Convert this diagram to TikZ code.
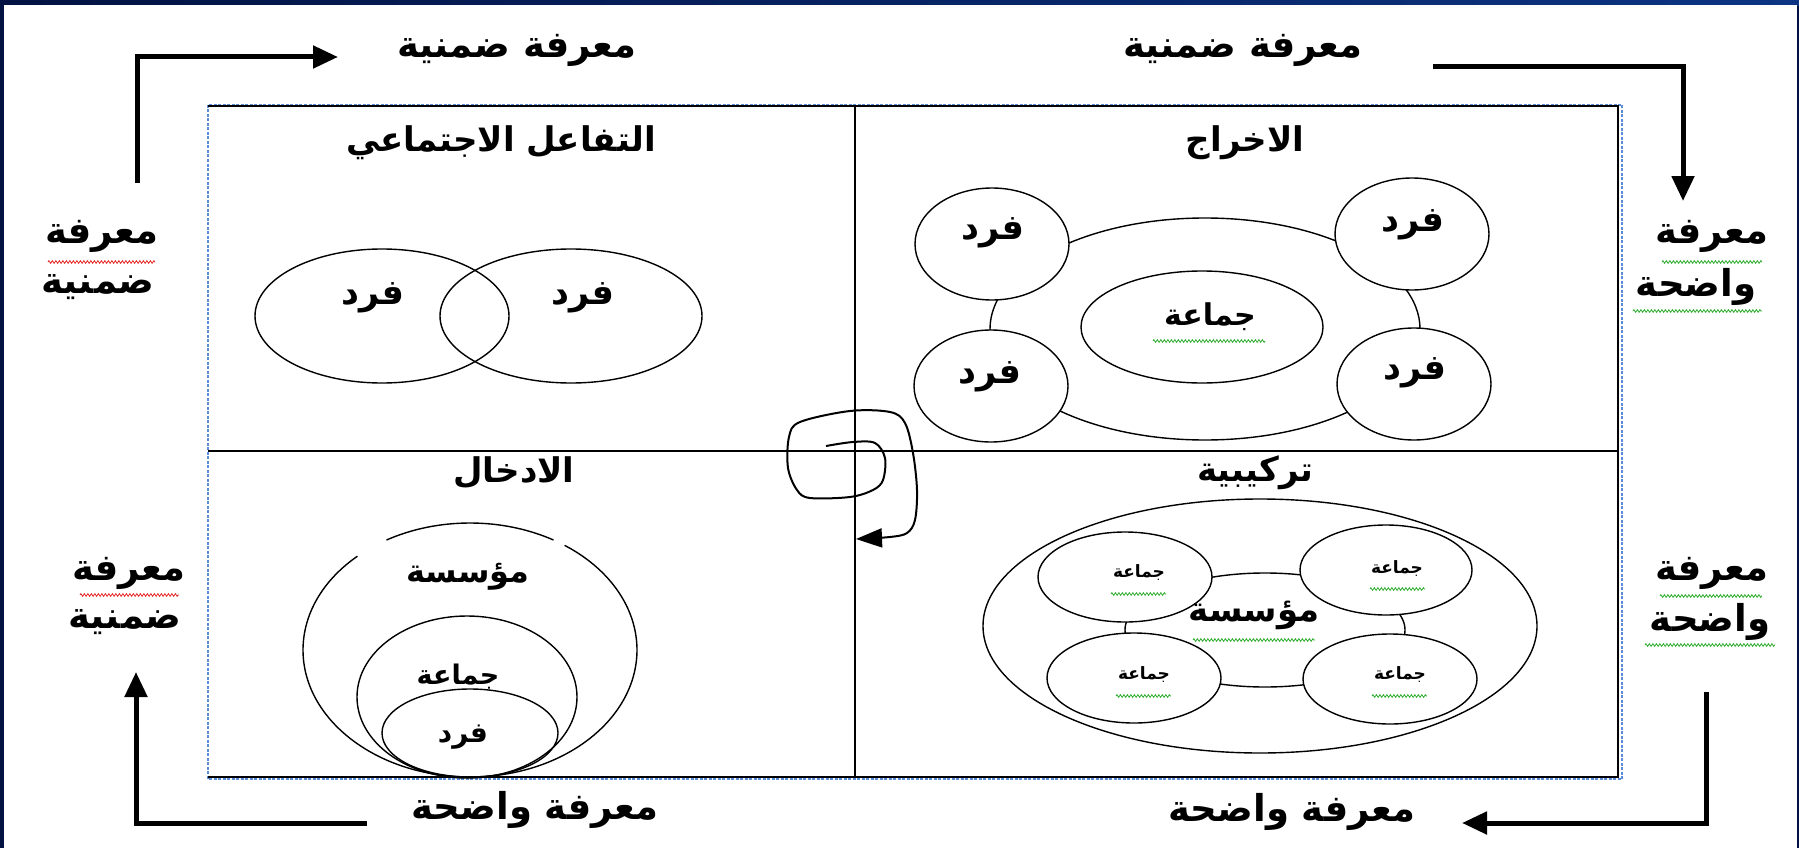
\documentclass[tikz,border=0pt]{standalone}
\usepackage{fontspec}
\usetikzlibrary{shapes.geometric,arrows.meta,decorations.pathmorphing}
\newfontfamily\ar[Script=Arabic]{DejaVu Sans}
\TeXXeTstate=1
\definecolor{navy}{RGB}{2,18,66}
\definecolor{navyb}{RGB}{12,52,130}
\definecolor{boxblue}{RGB}{90,140,215}
\definecolor{sqgreen}{RGB}{40,170,40}
\definecolor{sqred}{RGB}{230,30,30}
\newcommand\AR[1]{\beginR #1\endR}
\begin{document}
\begin{tikzpicture}[x=1pt,y=1pt,
  ell/.style={draw, ellipse, inner sep=0pt, line width=1.4pt},
  wf/.style={fill=white},
  ttl/.style={font=\ar\bfseries\fontsize{34}{38}\selectfont, inner sep=0pt},
  lbl/.style={font=\ar\bfseries\fontsize{37}{40}\selectfont, inner sep=0pt},
  fr/.style={font=\ar\bfseries\fontsize{35}{38}\selectfont, inner sep=0pt},
  mid/.style={font=\ar\bfseries\fontsize{30}{34}\selectfont, inner sep=0pt},
  sm/.style={font=\ar\bfseries\fontsize{17}{20}\selectfont, inner sep=0pt},
  bigarrow/.style={line width=5pt, -{Triangle[length=25pt,width=22pt]}},
  sqg/.style={sqgreen, line width=0.8pt, decorate, decoration={zigzag, amplitude=1.3pt, segment length=3.5pt}},
  sqr/.style={sqred, line width=0.8pt, decorate, decoration={zigzag, amplitude=1.3pt, segment length=3.5pt}},
  rule/.style={line width=1.6pt}
]
\useasboundingbox (0,0) rectangle (1799,-848);
% frame
\fill[navy] (0,0) rectangle (1799,-848);
\shade[left color=navy, right color=navyb] (0,0) rectangle (1799,-6);
\fill[white] (4,-5) rectangle (1797,-848);

% main box
\draw[boxblue, line width=1.2pt, dashed, dash pattern=on 3pt off 1.5pt] (208,-105) rectangle (1622,-779);
\draw[rule] (208,-106) -- (1618,-106) -- (1618,-777) -- (208,-777);
\draw[rule] (855,-106) -- (855,-777);
\draw[rule] (208,-451) -- (1618,-451);

% titles
\node[ttl] (tSoc) at (501,-143) {\AR{التفاعل الاجتماعي}};
\node[ttl] (tExt) at (1245,-143) {\AR{الاخراج}};
\node[ttl] (tInt) at (514,-473) {\AR{الادخال}};
\node[ttl] (tCom) at (1255,-473) {\AR{تركيبية}};

% top-left quadrant: two overlapping individuals
\node[ell, minimum width=254pt, minimum height=134pt] (eL) at (382,-316) {};
\node[ell, minimum width=262pt, minimum height=134pt] (eR) at (571,-316) {};
\node[fr] (fL) at (373,-298) {\AR{فرد}};
\node[fr] (fR) at (583,-298) {\AR{فرد}};

% top-right quadrant
\node[ell, minimum width=430pt, minimum height=222pt] (ring1) at (1205,-329) {};
\node[ell, wf, minimum width=242pt, minimum height=112pt] (grp1) at (1202,-327) {};
\node[ell, wf, minimum width=154pt, minimum height=112pt] (c1) at (992,-244) {};
\node[ell, wf, minimum width=154pt, minimum height=112pt] (c2) at (991,-386) {};
\node[ell, wf, minimum width=154pt, minimum height=112pt] (c3) at (1412,-234) {};
\node[ell, wf, minimum width=154pt, minimum height=112pt] (c4) at (1414,-384) {};
\node[fr] (fc1) at (993,-233) {\AR{فرد}};
\node[fr] (fc2) at (990,-377) {\AR{فرد}};
\node[fr] (fc3) at (1413,-225) {\AR{فرد}};
\node[fr] (fc4) at (1415,-373) {\AR{فرد}};
\node[mid] (g1t) at (1210,-317) {\AR{جماعة}};
\draw[sqg] (1153,-341) -- (1265,-341);

% bottom-right quadrant
\node[ell, minimum width=554pt, minimum height=254pt] (org2) at (1260,-626) {};
\node[ell, minimum width=280pt, minimum height=114pt] (ring2) at (1265,-630) {};
\node[ell, wf, minimum width=174pt, minimum height=90pt] (s1) at (1125,-577) {};
\node[ell, wf, minimum width=172pt, minimum height=90pt] (s2) at (1386,-570) {};
\node[ell, wf, minimum width=174pt, minimum height=90pt] (s3) at (1134,-678) {};
\node[ell, wf, minimum width=174pt, minimum height=90pt] (s4) at (1390,-679) {};
\node[sm] (st1) at (1139,-573) {\AR{جماعة}};
\node[sm] (st2) at (1397,-569) {\AR{جماعة}};
\node[sm] (st3) at (1144,-675) {\AR{جماعة}};
\node[sm] (st4) at (1400,-675) {\AR{جماعة}};
\draw[sqg] (1111,-594) -- (1166,-594);
\draw[sqg] (1370,-589) -- (1425,-589);
\draw[sqg] (1116,-696) -- (1171,-696);
\draw[sqg] (1372,-696) -- (1427,-696);
\node[mid, font=\ar\bfseries\fontsize{34}{38}\selectfont] (o2t) at (1254,-615) {\AR{مؤسسة}};
\draw[sqg] (1193,-640) -- (1315,-640);

% bottom-left quadrant: nested
\begin{scope}[shift={(470,-650)}, line width=1.4pt]
  \draw (132.4:167 and 127) arc[start angle=132.4, end angle=415.5, x radius=167, y radius=127];
  \draw (60:167 and 127) arc[start angle=60, end angle=120, x radius=167, y radius=127];
\end{scope}
\node[ell, minimum width=220pt, minimum height=162pt] (grp3) at (467,-697) {};
\node[ell, minimum width=176pt, minimum height=88pt] (ind3) at (470,-733) {};
\node[mid, font=\ar\bfseries\fontsize{32}{36}\selectfont] (o3t) at (468,-577) {\AR{مؤسسة}};
\node[mid, font=\ar\bfseries\fontsize{27}{30}\selectfont] (g3t) at (458,-677) {\AR{جماعة}};
\node[mid, font=\ar\bfseries\fontsize{28}{30}\selectfont] (f3t) at (463,-737) {\AR{فرد}};

% spiral
\draw[line width=2pt, -{Triangle[length=26pt,width=19pt]}] plot[smooth, tension=0.55] coordinates {
 (826,-446) (853,-442) (875,-443) (885,-458) (883,-480) (873,-490) (850,-497) (810,-498) (797,-490) (788,-468) (789,-437) (800,-422) (850,-411) (890,-412) (905,-423) (913,-453) (917,-490) (915,-520) (907,-533) (890,-537) (856,-539)};

% outer labels
\node[lbl] (kTL) at (517,-50) {\AR{معرفة ضمنية}};
\node[lbl] (kTR) at (1243,-50) {\AR{معرفة ضمنية}};
\node[lbl] (kBL) at (535,-810) {\AR{معرفة واضحة}};
\node[lbl] (kBR) at (1292,-812) {\AR{معرفة واضحة}};

\node[lbl] (kL1a) at (102,-236) {\AR{معرفة}};
\node[lbl] (kL1b) at (98,-287) {\AR{ضمنية}};
\draw[sqr] (48,-262) -- (155,-262);
\node[lbl] (kL2a) at (129,-573) {\AR{معرفة}};
\node[lbl] (kL2b) at (125,-622) {\AR{ضمنية}};
\draw[sqr] (80,-595) -- (179,-595);

\node[lbl] (kR1a) at (1712,-236) {\AR{معرفة}};
\node[lbl] (kR1b) at (1696,-287) {\AR{واضحة}};
\draw[sqg] (1662,-262) -- (1762,-262);
\draw[sqg] (1633,-311) -- (1762,-311);
\node[lbl] (kR2a) at (1712,-573) {\AR{معرفة}};
\node[lbl] (kR2b) at (1710,-622) {\AR{واضحة}};
\draw[sqg] (1660,-596) -- (1762,-596);
\draw[sqg] (1645,-645) -- (1775,-645);

% outer arrows
\coordinate (aTL1) at (137,-183); \coordinate (aTL2) at (338,-57);
\coordinate (aTR1) at (1433,-67); \coordinate (aTR2) at (1683,-201);
\coordinate (aBR1) at (1706,-692); \coordinate (aBR2) at (1462,-823);
\coordinate (aBL1) at (367,-823); \coordinate (aBL2) at (136,-672);
\draw[bigarrow] (aTL1) |- (aTL2);
\draw[bigarrow] (aTR1) -| (aTR2);
\draw[bigarrow] (aBR1) |- (aBR2);
\draw[bigarrow] (aBL1) -| (aBL2);
\end{tikzpicture}
\end{document}
